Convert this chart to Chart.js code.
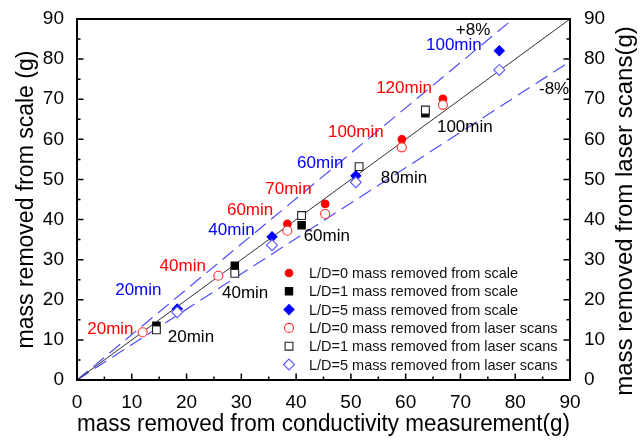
<!DOCTYPE html>
<html>
<head>
<meta charset="utf-8">
<script src="https://cdn.jsdelivr.net/npm/chart.js@4.4.1/dist/chart.umd.min.js"></script>
<style>
html, body { margin: 0; padding: 0; background: #fff; }
#wrap { width: 644px; height: 440px; }
</style>
</head>
<body>
<div id="wrap"><canvas id="massChart" width="644" height="440"></canvas></div>
<script>

// measured points (x = conductivity, y = scale / laser)
const ld0ScaleX = [38.4, 45.3, 59.3, 66.8];
const ld0ScaleY = [38.9, 43.9, 60.0, 70.1];
const ld1ScaleX = [14.5, 28.8, 41.0, 63.6];
const ld1ScaleY = [13.5, 28.5, 38.6, 66.5];
const ld5ScaleX = [18.3, 35.6, 50.9, 77.1];
const ld5ScaleY = [17.7, 35.7, 50.9, 82.1];

const ld0LaserX = [12.0, 25.8, 38.4, 45.3, 59.3, 66.8];
const ld0LaserY = [11.9, 26.0, 37.2, 41.4, 58.0, 68.6];
const ld1LaserX = [14.5, 28.8, 41.0, 51.5, 63.6];
const ld1LaserY = [12.5, 26.6, 41.0, 53.2, 67.3];
const ld5LaserX = [18.3, 35.6, 50.9, 77.1];
const ld5LaserY = [16.9, 33.6, 49.3, 77.3];

// reference lines (end points)
const equalLineX = [0, 90];
const equalLineY = [0, 90];
const upperLineX = [0, 79.6];
const upperLineY = [0, 90];
const lowerLineX = [0, 90];
const lowerLineY = [0, 79.4];

// time labels
const labelText = ['+8%', '-8%', '100min', '120min', '100min', '100min', '60min', '80min', '70min',
                   '60min', '40min', '60min', '40min', '20min', '40min', '20min', '20min'];
const labelX = [72.3, 87.1, 68.8, 59.7, 70.8, 50.9, 44.4, 59.7, 38.6, 31.6, 28.2, 45.6, 19.3, 11.2, 30.7, 6.1, 20.8];
const labelY = [87.3, 72.5, 83.5, 72.7, 62.9, 61.8, 54.0, 50.3, 47.5, 42.4, 37.4, 35.9, 28.4, 22.3, 21.6, 12.7, 10.6];
const labelGroup = ['ref', 'ref', 'LD5', 'LD0', 'LD1', 'LD0', 'LD5', 'LD1', 'LD0',
                    'LD0', 'LD5', 'LD1', 'LD0', 'LD5', 'LD1', 'LD0', 'LD1'];

const axisTicks = [0, 10, 20, 30, 40, 50, 60, 70, 80, 90];
const rightTitle = 'mass removed from laser scans(g)';

const groupColor = { ref: '#000', LD0: '#ff0000', LD1: '#000', LD5: '#0000ff' };
const FONT = "'Liberation Sans', Arial, sans-serif";

function pts(xs, ys){
    return xs.map((x, i) => ({ x: x, y: ys[i] }));
}

const seriesList = [
    { label: 'L/D=0 mass removed from scale', xs: ld0ScaleX, ys: ld0ScaleY, style: 'circle', r: 3.8, fill: '#ff0000', stroke: '#ff0000', order: 2 },
    { label: 'L/D=1 mass removed from scale', xs: ld1ScaleX, ys: ld1ScaleY, style: 'rect', r: 5.2, fill: '#000', stroke: '#000', order: 2 },
    { label: 'L/D=5 mass removed from scale', xs: ld5ScaleX, ys: ld5ScaleY, style: 'rectRot', r: 5, fill: '#0000ff', stroke: '#0000ff', order: 2 },
    { label: 'L/D=0 mass removed from laser scans', xs: ld0LaserX, ys: ld0LaserY, style: 'circle', r: 4.5, fill: '#fff', stroke: '#ff3030', order: 1 },
    { label: 'L/D=1 mass removed from laser scans', xs: ld1LaserX, ys: ld1LaserY, style: 'rect', r: 5.5, fill: '#fff', stroke: '#222', order: 1 },
    { label: 'L/D=5 mass removed from laser scans', xs: ld5LaserX, ys: ld5LaserY, style: 'rectRot', r: 5.5, fill: '#fff', stroke: '#5a5aff', order: 1 }
];

const datasets = seriesList.map(s => ({
    label: s.label,
    data: pts(s.xs, s.ys),
    showLine: false,
    pointStyle: s.style,
    pointRadius: s.r,
    pointBackgroundColor: s.fill,
    pointBorderColor: s.stroke,
    pointBorderWidth: 1.1,
    order: s.order
}));

datasets.push(
    { label: 'y=x', data: pts(equalLineX, equalLineY), showLine: true, pointRadius: 0,
      borderColor: '#333', borderWidth: 1, order: 10 },
    { label: '+8%', data: pts(upperLineX, upperLineY), showLine: true, pointRadius: 0,
      borderColor: '#4d4dff', borderWidth: 1.2, borderDash: [14, 7], order: 10 },
    { label: '-8%', data: pts(lowerLineX, lowerLineY), showLine: true, pointRadius: 0,
      borderColor: '#4d4dff', borderWidth: 1.2, borderDash: [14, 7], order: 10 }
);

function drawMarker(ctx, s, x, y){
    ctx.save();
    ctx.beginPath();
    if (s.style === 'circle') {
        ctx.arc(x, y, s.r, 0, Math.PI * 2);
    } else if (s.style === 'rect') {
        const h = s.r * Math.SQRT1_2;
        ctx.rect(x - h, y - h, 2 * h, 2 * h);
    } else {
        ctx.moveTo(x - s.r, y);
        ctx.lineTo(x, y - s.r);
        ctx.lineTo(x + s.r, y);
        ctx.lineTo(x, y + s.r);
        ctx.closePath();
    }
    ctx.fillStyle = s.fill;
    ctx.fill();
    ctx.lineWidth = 1.1;
    ctx.strokeStyle = s.stroke;
    ctx.stroke();
    ctx.restore();
}

// frame + inward ticks + right title (reads bottom to top)
const framePlugin = {
    id: 'frame',
    afterDraw(chart){
        const ctx = chart.ctx;
        const a = chart.chartArea;
        const xs = chart.scales.x;
        const ys = chart.scales.y;
        ctx.save();
        ctx.strokeStyle = '#000';
        ctx.lineWidth = 1.5;
        for (let v = 0; v <= 90; v += 5) {
            const len = v % 10 === 0 ? 6.5 : 3.5;
            const px = xs.getPixelForValue(v);
            const py = ys.getPixelForValue(v);
            ctx.beginPath();
            ctx.moveTo(px, a.bottom); ctx.lineTo(px, a.bottom - len);
            ctx.moveTo(a.left, py); ctx.lineTo(a.left + len, py);
            ctx.moveTo(a.right, py); ctx.lineTo(a.right - len, py);
            ctx.stroke();
        }
        ctx.lineWidth = 2;
        ctx.strokeRect(a.left, a.top, a.right - a.left, a.bottom - a.top);

        ctx.translate(a.right + 55, a.top + 192);
        ctx.rotate(-Math.PI / 2);
        ctx.font = '24px ' + FONT;
        ctx.fillStyle = '#000';
        ctx.textAlign = 'center';
        ctx.textBaseline = 'middle';
        ctx.fillText(rightTitle, 0, 0);
        ctx.restore();
    }
};

// time labels + legend
const labelPlugin = {
    id: 'labels',
    afterDatasetsDraw(chart){
        const ctx = chart.ctx;
        const xs = chart.scales.x;
        const ys = chart.scales.y;
        const a = chart.chartArea;
        ctx.save();
        ctx.font = '17px ' + FONT;
        ctx.textAlign = 'center';
        ctx.textBaseline = 'middle';
        labelText.forEach((t, i) => {
            ctx.fillStyle = groupColor[labelGroup[i]];
            ctx.fillText(t, xs.getPixelForValue(labelX[i]), ys.getPixelForValue(labelY[i]));
        });

        ctx.font = '14.5px ' + FONT;
        ctx.textAlign = 'left';
        const mx = a.right - 281;
        const y0 = a.bottom - 107;
        seriesList.forEach((s, i) => {
            const y = y0 + i * 18.3;
            drawMarker(ctx, s, mx, y);
            ctx.fillStyle = '#111';
            ctx.fillText(s.label, mx + 20, y + 1);
        });
        ctx.restore();
    }
};

const tickFont = { family: FONT, size: 19 };
const titleFont = { family: FONT, size: 23 };

new Chart(document.getElementById('massChart'), {
    type: 'scatter',
    data: { datasets: datasets },
    options: {
        responsive: false,
        animation: false,
        devicePixelRatio: 1,
        layout: { padding: { top: 19, left: 0, right: 0, bottom: 0 } },
        plugins: {
            legend: { display: false },
            tooltip: { enabled: false }
        },
        scales: {
            x: {
                type: 'linear', min: 0, max: 90,
                afterBuildTicks: s => { s.ticks = axisTicks.map(v => ({ value: v })); },
                ticks: { font: tickFont, color: '#000', padding: 3, maxRotation: 0 },
                grid: { display: false },
                border: { display: false },
                title: { display: true, text: 'mass removed from conductivity measurement(g)', font: titleFont, color: '#000', padding: { top: 0, bottom: 2 } },
                afterFit: s => { s.height = 60; }
            },
            y: {
                type: 'linear', position: 'left', min: 0, max: 90,
                afterBuildTicks: s => { s.ticks = axisTicks.map(v => ({ value: v })); },
                ticks: { font: tickFont, color: '#000', padding: 5 },
                grid: { display: false },
                border: { display: false },
                title: { display: true, text: 'mass removed from scale (g)', font: titleFont, color: '#000', padding: { top: 13, bottom: 0 } },
                afterFit: s => { s.width = 77; }
            },
            y2: {
                type: 'linear', position: 'right', min: 0, max: 90,
                afterBuildTicks: s => { s.ticks = axisTicks.map(v => ({ value: v })); },
                ticks: { font: tickFont, color: '#000', padding: 6 },
                grid: { display: false },
                border: { display: false },
                title: { display: false },
                afterFit: s => { s.width = 74; }
            }
        }
    },
    plugins: [framePlugin, labelPlugin]
});
</script>
</body>
</html>
